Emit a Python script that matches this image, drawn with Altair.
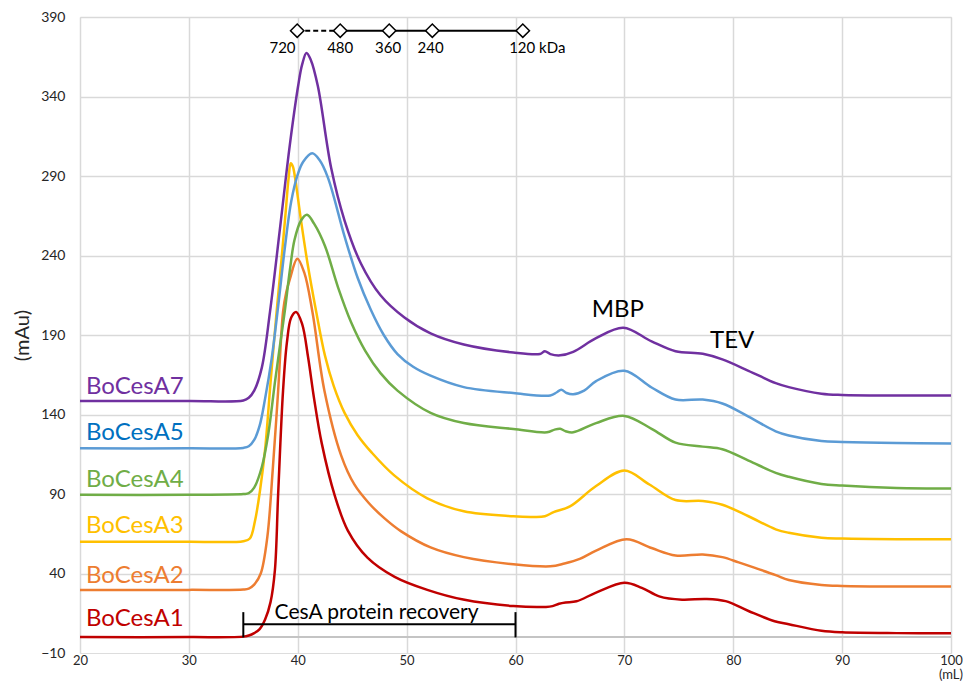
import altair as alt
import pandas as pd

# ---------------- data ----------------
names = ["BoCesA1", "BoCesA2", "BoCesA3", "BoCesA4", "BoCesA5", "BoCesA7"]
line_colors = ["#C00000", "#ED7D31", "#FFC000", "#70AD47", "#5B9BD5", "#7030A0"]
label_colors = ["#C00000", "#ED7D31", "#FFC000", "#70AD47", "#0070C0", "#7030A0"]

a1_x = [20, 30, 35, 35.5, 36, 36.5, 37, 37.5, 37.9, 38.2, 38.65, 39.0, 39.4, 39.85, 40.4, 40.95, 41.5, 42.2,
        43.4, 44.6, 46.4, 48.9, 51.9, 55.2, 59.8, 62.8, 63.4, 64.0, 64.6, 65.6, 67.4, 70.0, 71.6, 73.2, 75.3,
        77.5, 79.3, 81.4, 83.8, 85.1, 88.1, 90, 95, 100]
a1_y = [0, 0, 0.3, 1, 2.5, 5, 11, 22, 42, 90, 155, 185, 201, 204.5, 197, 176, 150, 122,
        89, 67, 50, 37.9, 29.7, 23.6, 19.5, 19, 19.5, 21, 21.8, 22.5, 28, 34.2, 31, 25.6, 23.5,
        24, 22.6, 16.4, 10, 8.1, 4, 3, 2.5, 2.5]

a2_x = [20, 30, 35, 35.5, 36, 36.6, 37.2, 37.7, 38.2, 38.65, 38.95, 39.27, 39.96, 40.6, 41.35, 42.45, 44.0,
        45.2, 46.5, 48.0, 49.5, 52.2, 55.25, 59.8, 63.2, 64.5, 65.9, 67.4, 70.2, 72.5, 74.7, 77.2, 79.0,
        80.5, 82.0, 83.9, 85.1, 88.1, 90, 95, 100]
a2_y = [29.7, 29.7, 29.9, 30.5, 33, 40, 62.6, 105, 155, 204.5, 217, 225, 238, 229.2, 204.5, 155, 114,
        96, 84.5, 74.5, 66.5, 56.4, 50.3, 45.8, 44.5, 46.3, 49.2, 54.4, 61.6, 56, 51.3, 52, 50.3,
        47, 43.5, 39, 35.9, 32.8, 32.2, 31.8, 31.8]

a3_x = [20, 30, 35, 35.6, 36.07, 36.55, 37.0, 37.5, 38.05, 38.5, 38.9, 39.15, 39.36, 39.55, 39.75, 40.3,
        40.9, 41.7, 42.5, 43.3, 44.3, 45.5, 46.8, 48.86, 51.9, 55.25, 59.8, 61.5, 62.7, 63.5, 65.0, 67.4,
        70.0, 72.3, 74.7, 77.2, 79.0, 81.4, 83.9, 85.1, 88.1, 90, 95, 100]
a3_y = [60, 60, 60.3, 62, 73, 93, 118, 160, 204, 237, 268, 288, 298, 296, 289, 262,
        235, 204.5, 177, 158, 141, 127, 116, 101.7, 87.3, 79.1, 76, 75.6, 76, 78.6, 82.2, 95,
        104.8, 96, 86.2, 85.6, 83.2, 76, 67.8, 65.6, 62.5, 62, 61.6, 61.6]

a4_x = [20, 30, 35, 35.5, 36.0, 36.7, 37.3, 37.9, 38.4, 38.8, 39.3, 39.7, 40.3, 40.85, 41.5, 42.5, 43.7,
        44.9, 46.2, 47.6, 49.16, 52.2, 55.25, 59.8, 62.9, 63.6, 64.1, 64.6, 65.3, 67.4, 70.0, 72.5, 74.7,
        77.2, 79.0, 81.4, 83.9, 85.1, 88.1, 90, 95, 100]
a4_y = [89.5, 89.5, 90, 90.5, 94, 107, 128, 160, 185, 204.5, 232, 249.7, 262, 265.6, 260, 246, 220,
        198, 180, 166, 155, 141, 134.6, 130.9, 128.8, 130.5, 131, 129.5, 128.8, 134.6, 139.1, 131, 122.3,
        119.8, 118.1, 111, 103.3, 100.8, 96.3, 95.3, 93.8, 93.5]

a5_x = [20, 30, 35, 35.5, 36.0, 36.5, 37.0, 37.6, 38.2, 38.8, 39.4, 40.0, 40.5, 41.33, 42.0, 42.77, 44.3,
        45.5, 46.7, 47.9, 49.16, 50.6, 52.2, 55.25, 59.8, 63.2, 63.8, 64.2, 64.7, 65.3, 66.3, 67.4,
        70.0, 72.5, 74.7, 77.2, 79.0, 81.4, 83.9, 85.1, 88.1, 90, 95, 100]
a5_y = [118.7, 118.7, 119, 120, 124, 133, 150, 175, 208, 244, 274, 291, 299, 304.3, 300, 289, 252,
        226, 206, 190, 178, 170, 164.4, 157.2, 153.5, 152, 154, 155.6, 153.5, 152.7, 155, 161,
        167.5, 157, 149.4, 149.4, 146.9, 138.7, 129.4, 126.8, 123.3, 122.7, 122, 121.8]

a7_x = [20, 30, 35, 35.5, 36.0, 36.7, 37.45, 38.35, 39.27, 40.03, 40.4, 40.8, 41.2, 41.85, 43.07, 44.3,
        45.8, 47.6, 49.8, 52.2, 55.25, 59.8, 62.25, 62.7, 63.2, 64.1, 65.3, 67.4, 69.9, 72.5, 74.7, 77.2,
        79.0, 81.4, 83.9, 85.1, 88.1, 90, 95, 100]
a7_y = [148.5, 148.5, 148.8, 150.5, 155, 169.5, 204.5, 255.9, 309.4, 346.4, 360, 367.4, 363, 346.4, 295, 262,
        235, 215, 201, 191, 184, 179, 178.1, 179.8, 178, 177.2, 179.4, 188, 194.6, 186, 179.8, 178.2,
        174.7, 167.5, 159.7, 157.2, 153.1, 152.3, 152, 152]

series_x = [a1_x, a2_x, a3_x, a4_x, a5_x, a7_x]
series_y = [a1_y, a2_y, a3_y, a4_y, a5_y, a7_y]

# series name labels (left side)
label_ml = [20.55] * 6
label_base = [6.7, 34.2, 65.7, 94.5, 123.7, 153.1]

x_ticks = [20, 30, 40, 50, 60, 70, 80, 90, 100]
y_ticks = [-10, 40, 90, 140, 190, 240, 290, 340, 390]

# molecular weight marker scale
mass_ml = [39.95, 43.9, 48.4, 52.36, 60.67]
mass_labels = ["720", "480", "360", "240", "120 kDa"]
mass_label_ml = [38.6, 43.9, 48.3, 52.2, 62.0]
mass_line_y = 381.4
mass_label_y = 367.5

# peak annotations
peak_text = ["MBP", "TEV"]
peak_ml = [69.4, 79.9]
peak_y = [201.4, 181.9]

# recovery bracket
bracket_start, bracket_end = 35, 60
bracket_y = 8.1
bracket_tick_lo, bracket_tick_hi = -0.2, 15.7
bracket_text = "CesA protein recovery"
bracket_text_ml, bracket_text_y = 47.24, 11.2

# ---------------- tables ----------------
rows = []
for name, xs, ys in zip(names, series_x, series_y):
    for xv, yv in zip(xs, ys):
        rows.append({"series": name, "x": xv, "y": yv})
df = pd.DataFrame(rows)

labels_df = pd.DataFrame({"x": label_ml, "y": label_base, "text": names, "c": label_colors})
mass_df = pd.DataFrame({"x": mass_ml, "y": [mass_line_y] * 5})
mass_lab_df = pd.DataFrame({"x": mass_label_ml, "y": [mass_label_y] * 5, "text": mass_labels})
dash_df = pd.DataFrame({"x": [mass_ml[0]], "x2": [mass_ml[1]], "y": [mass_line_y]})
solid_df = pd.DataFrame({"x": [mass_ml[1]], "x2": [mass_ml[-1]], "y": [mass_line_y]})
peak_df = pd.DataFrame({"x": peak_ml, "y": peak_y, "text": peak_text})
br_h = pd.DataFrame({"x": [bracket_start], "x2": [bracket_end], "y": [bracket_y]})
br_v = pd.DataFrame({"x": [bracket_start, bracket_end], "y": [bracket_tick_lo] * 2, "y2": [bracket_tick_hi] * 2})
br_t = pd.DataFrame({"x": [bracket_text_ml], "y": [bracket_text_y], "text": [bracket_text]})
zero_df = pd.DataFrame({"y": [0]})
unit_df = pd.DataFrame({"x": [101.1], "y": [-28.3], "text": ["(mL)"]})

FONT = "Lato"
xscale = alt.Scale(domain=[20, 100], nice=False, zero=False)
yscale = alt.Scale(domain=[-10, 390], nice=False, zero=False)

x_axis = alt.Axis(values=x_ticks, title=None, grid=True, gridColor="#d9d9d9", gridWidth=1.5,
                  ticks=False, domain=False, labelFont=FONT, labelFontSize=13, labelColor="#262626",
                  labelPadding=1, labelFlush=False)
y_axis = alt.Axis(values=y_ticks, title="(mAu)", grid=True, gridColor="#d9d9d9", gridWidth=1.5,
                  gridOpacity=alt.condition("datum.value == -10", alt.value(0), alt.value(1)),
                  ticks=False, domain=False, labelFont=FONT, labelFontSize=14, labelColor="#262626",
                  labelPadding=15, labelFlush=False, titleFont=FONT, titleFontSize=20,
                  titleFontWeight="normal", titleColor="#262626", titlePadding=8)

base_x = alt.X("x:Q", scale=xscale, axis=x_axis)
base_y = alt.Y("y:Q", scale=yscale, axis=y_axis)

zero_rule = alt.Chart(zero_df).mark_rule(color="#c4c4c4", strokeWidth=2).encode(y=alt.Y("y:Q"))

lines = alt.Chart(df).mark_line(strokeWidth=2.5, interpolate="catmull-rom").encode(
    x=base_x, y=base_y,
    color=alt.Color("series:N", scale=alt.Scale(domain=names, range=line_colors), legend=None),
    detail="series:N",
)

series_labels = alt.Chart(labels_df).mark_text(
    align="left", baseline="alphabetic", font=FONT, fontSize=24
).encode(x="x:Q", y="y:Q", text="text:N", color=alt.Color("c:N", scale=None))

dash_rule = alt.Chart(dash_df).mark_rule(color="black", strokeWidth=2, strokeDash=[5, 3]).encode(
    x="x:Q", x2="x2:Q", y="y:Q")
solid_rule = alt.Chart(solid_df).mark_rule(color="black", strokeWidth=2).encode(
    x="x:Q", x2="x2:Q", y="y:Q")
diamonds = alt.Chart(mass_df).mark_point(
    shape="diamond", filled=True, fill="white", stroke="black", strokeWidth=1.5, size=180, opacity=1
).encode(x="x:Q", y="y:Q")
mass_text = alt.Chart(mass_lab_df).mark_text(
    align="center", baseline="alphabetic", font=FONT, fontSize=15, color="black"
).encode(x="x:Q", y="y:Q", text="text:N")

peaks = alt.Chart(peak_df).mark_text(
    align="center", baseline="alphabetic", font=FONT, fontSize=24, color="black"
).encode(x="x:Q", y="y:Q", text="text:N")

br_h_rule = alt.Chart(br_h).mark_rule(color="black", strokeWidth=2).encode(x="x:Q", x2="x2:Q", y="y:Q")
br_v_rule = alt.Chart(br_v).mark_rule(color="black", strokeWidth=2).encode(x="x:Q", y="y:Q", y2="y2:Q")
br_text = alt.Chart(br_t).mark_text(
    align="center", baseline="alphabetic", font=FONT, fontSize=21, color="black"
).encode(x="x:Q", y="y:Q", text="text:N")

unit_text = alt.Chart(unit_df).mark_text(
    align="right", baseline="bottom", font=FONT, fontSize=13, color="#262626"
).encode(x="x:Q", y="y:Q", text="text:N")

chart = alt.layer(
    zero_rule, lines, series_labels, dash_rule, solid_rule, diamonds, mass_text,
    peaks, br_h_rule, br_v_rule, br_text, unit_text
).resolve_scale(color="independent").properties(
    width=871, height=636,
    autosize=alt.AutoSizeParams(type="none"),
    padding={"left": 72, "top": 9, "right": 12, "bottom": 30},
).configure_view(stroke="transparent").configure(font=FONT)

chart.save("out.html", embed_options={"renderer": "svg", "actions": False})
